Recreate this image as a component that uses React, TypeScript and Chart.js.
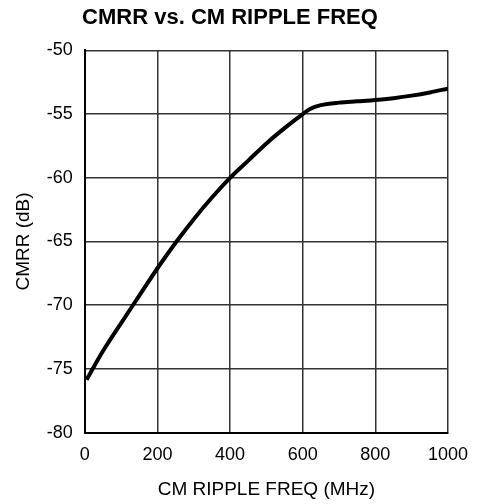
import React, { useEffect, useRef } from "react";
import { Chart, registerables } from "chart.js";

Chart.register(...registerables);

const freqMHz = [5, 50, 100, 150, 200, 250, 300, 350, 400, 450, 500, 550, 600, 620, 650, 700, 750, 800, 850, 900, 950, 1000];
const cmrrDb = [-75.85, -73.6, -71.4, -69.25, -67.1, -65.1, -63.25, -61.55, -60.0, -58.65, -57.3, -56.1, -55.0, -54.6, -54.3, -54.1, -54.0, -53.9, -53.75, -53.55, -53.3, -53.0];

const titleText = "CMRR vs. CM RIPPLE FREQ";
const xAxisTitle = "CM RIPPLE FREQ (MHz)";
const yAxisTitle = "CMRR (dB)";
const xMin = 0, xMax = 1000, xStep = 200;
const yMin = -80, yMax = -50, yStep = 5;

const FONT = "'Liberation Sans', Arial, Helvetica, sans-serif";

export default function App() {
  const ref = useRef<HTMLCanvasElement | null>(null);
  useEffect(() => {
    if (!ref.current) return;
    const chart = new Chart(ref.current, {
      type: "line",
      data: {
        datasets: [
          {
            data: freqMHz.map((f, i) => ({ x: f, y: cmrrDb[i] })),
            borderColor: "#000",
            borderWidth: 4,
            pointRadius: 0,
            cubicInterpolationMode: "monotone",
            fill: false,
          },
        ],
      },
      options: {
        animation: false,
        responsive: false,
        layout: { padding: { left: 12, right: 29, top: 0, bottom: 3 } },
        plugins: {
          legend: { display: false },
          tooltip: { enabled: false },
          title: {
            display: true,
            text: titleText,
            color: "#000",
            font: { family: FONT, size: 22, weight: "bold" },
            padding: { top: 5, bottom: 19 },
          },
        },
        scales: {
          x: {
            type: "linear",
            min: xMin,
            max: xMax,
            ticks: {
              stepSize: xStep,
              color: "#000",
              padding: 0,
              font: { family: FONT, size: 18 },
              callback: (v: any) => String(v),
            },
            grid: { color: "#333", lineWidth: 1.5, drawTicks: true, tickLength: 12, tickColor: "rgba(0,0,0,0)" },
            border: { display: true, color: "#000", width: 2 },
            title: { display: true, text: xAxisTitle, color: "#000", font: { family: FONT, size: 19 }, padding: { top: 12, bottom: 0 } },
          },
          y: {
            type: "linear",
            min: yMin,
            max: yMax,
            ticks: { stepSize: yStep, color: "#000", padding: 12, font: { family: FONT, size: 18 } },
            grid: { color: "#333", lineWidth: 1.5, drawTicks: false },
            border: { display: true, color: "#000", width: 2 },
            title: { display: true, text: yAxisTitle, color: "#000", font: { family: FONT, size: 19 }, padding: { top: 0, bottom: 0 } },
          },
        },
      },
    });
    return () => chart.destroy();
  }, []);
  return (
    <div style={{ position: "absolute", left: 0, top: 0, width: 477, height: 504, background: "#fff" }}>
      <canvas ref={ref} width={477} height={504} style={{ width: 477, height: 504 }} />
    </div>
  );
}
